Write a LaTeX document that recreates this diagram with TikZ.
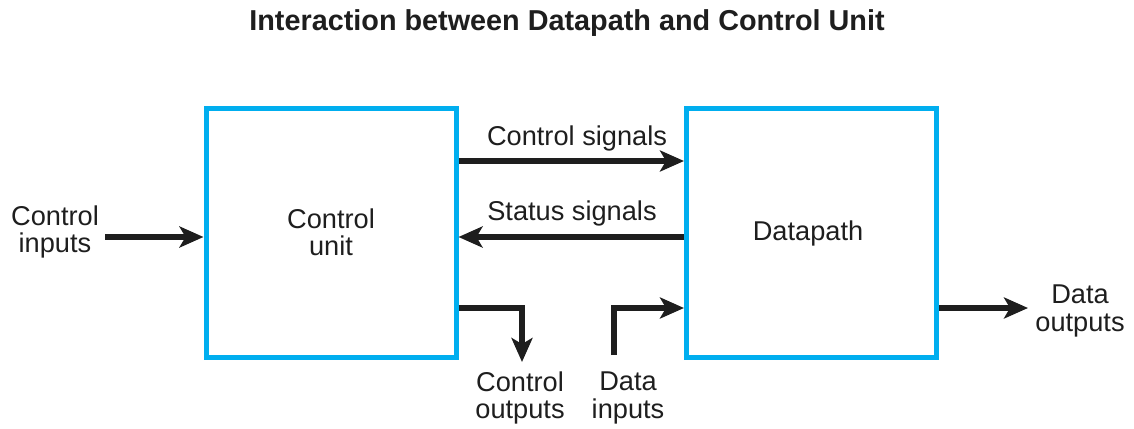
\documentclass[tikz,border=0pt]{standalone}
\usepackage{fontspec}
\setmainfont{Liberation Sans}
\usetikzlibrary{arrows.meta}
\definecolor{boxblue}{RGB}{0,174,239}
\definecolor{inkdark}{RGB}{30,30,30}
\newcommand\lblfont{\fontsize{13.6}{13.6}\selectfont}
\begin{document}
\begin{tikzpicture}[x=0.5pt,y=-0.5pt,
  blk/.style={draw=boxblue,line width=2.5pt,minimum width=125pt,minimum height=124.5pt,
              inner sep=0pt,font=\lblfont,align=center,text=inkdark},
  lbl/.style={font=\lblfont,align=center,inner sep=0pt,text=inkdark},
  sig/.style={line width=3pt,draw=inkdark,-{Stealth[length=12pt,width=10.5pt,inset=3pt]}}]
\useasboundingbox (0,0) rectangle (1134,428);

% title
\node[font=\bfseries\fontsize{14.4}{14.4}\selectfont,text=inkdark] (title) at (567,23)
  {Interaction between Datapath and Control Unit};

% the two blocks
\node[blk] (cu) at (331,232.5) {};
\node[lbl] (cutxt) at (331,232) {Control\\unit};
\node[blk] (dp) at (811.5,232.5) {};
\node[lbl] (dptxt) at (808,233) {Datapath};

% signal rows
\coordinate (ycs) at (0,161);
\coordinate (yss) at (0,237);
\coordinate (yio) at (0,308);

% outside labels
\node[lbl] (ci) at (55,232) {Control\\inputs};
\node[lbl] (co) at (520,398) {Control\\outputs};
\node[lbl] (di) at (628,398) {Data\\inputs};
\node[lbl] (do) at (1080,311) {Data\\outputs};
\node[lbl] (cslbl) at (577,138) {Control signals};
\node[lbl] (sslbl) at (572,213) {Status signals};

% free ends of external connectors
\coordinate (citail) at (105,237);
\coordinate (cotip) at (522,362);
\coordinate (ditail) at (614,355);
\coordinate (dotip) at (1028,308);

% connectors
\draw[sig] (cu.east |- ycs) -- (dp.west |- ycs);
\draw[sig] (dp.west |- yss) -- (cu.east |- yss);
\draw[sig] (citail) -- (cu.west |- citail);
\draw[sig] (cu.east |- yio) -| (cotip);
\draw[sig] (ditail) |- (dp.west |- yio);
\draw[sig] (dp.east |- dotip) -- (dotip);
\end{tikzpicture}
\end{document}
